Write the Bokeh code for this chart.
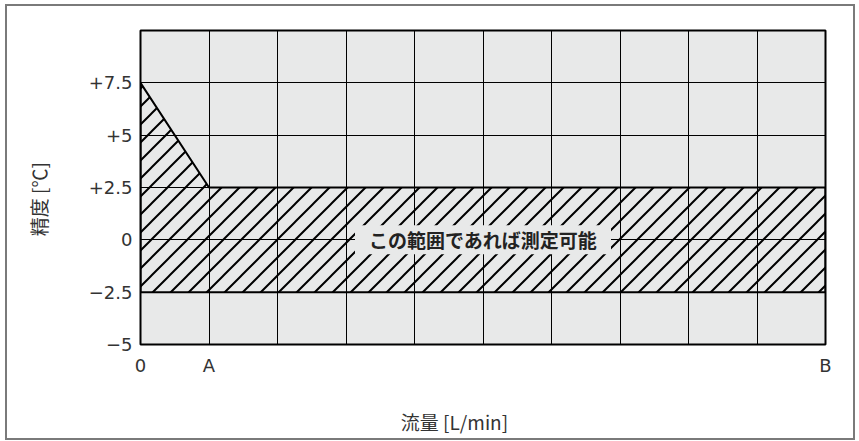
import base64
from bokeh.plotting import figure
from bokeh.models import FixedTicker, Label, ImageURLTexture
from bokeh.embed import file_html
from bokeh.resources import INLINE

# Data
x_ticks = [0, 1, 10]
x_tick_labels = ["0", "A", "B"]
x_grid = [0, 1, 2, 3, 4, 5, 6, 7, 8, 9, 10]
y_ticks = [-5, -2.5, 0, 2.5, 5, 7.5]
y_tick_labels = ["\u22125", "\u22122.5", "0", "+2.5", "+5", "+7.5"]
y_grid = [-5, -2.5, 0, 2.5, 5, 7.5, 10]
region_x = [0, 0, 1, 10, 10]
region_y = [-2.5, 7.5, 2.5, 2.5, -2.5]
region_label = "この範囲であれば測定可能"
label_pos = (5, 0)
x_label = "流量 [L/min]\u3000\u3000\u3000"
y_label = "精度 [\u2103]\u3000\u00a0"

p = figure(width=850, height=436, x_range=(0, 10), y_range=(-5, 10),
           output_backend="svg", toolbar_location=None,
           min_border_left=133, min_border_right=32, min_border_top=24, min_border_bottom=98)
p.styles = {"border": "2px solid #7a7a7a", "margin-left": "5px", "margin-top": "4px"}
p.background_fill_color = "#e8e9e9"
p.border_fill_color = "white"
p.outline_line_color = "black"
p.outline_line_width = 2

xa = p.xaxis[0]
ya = p.yaxis[0]
xa.ticker = FixedTicker(ticks=x_ticks)
xa.major_label_overrides = {t: l for t, l in zip(x_ticks, x_tick_labels)}
ya.ticker = FixedTicker(ticks=y_ticks)
ya.major_label_overrides = {t: l for t, l in zip(y_ticks, y_tick_labels)}
p.xgrid[0].ticker = FixedTicker(ticks=x_grid)
p.ygrid[0].ticker = FixedTicker(ticks=y_grid)
for g in (p.xgrid[0], p.ygrid[0]):
    g.grid_line_color = "black"
    g.grid_line_width = 1
    g.grid_line_alpha = 1

for ax in (xa, ya):
    ax.axis_line_color = None
    ax.major_tick_line_color = None
    ax.minor_tick_line_color = None
    ax.major_label_text_font = "DejaVu Sans"
    ax.major_label_text_font_size = "18px"
    ax.major_label_text_color = "#333333"
    ax.axis_label_text_font = "Noto Sans CJK JP"
    ax.axis_label_text_font_style = "normal"
    ax.axis_label_text_color = "#333333"
    ax.axis_label_text_font_size = "19px"

xa.major_label_standoff = 4
ya.major_label_standoff = 2
xa.axis_label = x_label
ya.axis_label = y_label
xa.axis_label_standoff = 29
ya.axis_label_standoff = 34

tile_svg = ("<svg xmlns='http://www.w3.org/2000/svg' width='18' height='18'>"
            "<path d='M0 18L18 0M-4.5 4.5L4.5 -4.5M13.5 22.5L22.5 13.5' "
            "stroke='black' stroke-width='2' fill='none'/></svg>")
tile_url = "data:image/svg+xml;base64," + base64.b64encode(tile_svg.encode()).decode()
diag = ImageURLTexture(url=tile_url, repetition="repeat")

p.patch(region_x, region_y, fill_color=None, line_color="black", line_width=2,
        hatch_pattern="diag", hatch_extra={"diag": diag},
        hatch_color="black", hatch_weight=2, hatch_scale=18)

lab = Label(x=label_pos[0], y=label_pos[1], text=region_label,
            text_align="center", text_baseline="middle",
            text_font="Noto Sans CJK JP", text_font_style="bold",
            text_font_size="19px", text_color="#222222",
            background_fill_color="#e8e9e9",
            padding=dict(left=14, right=14, top=1, bottom=1))
p.add_layout(lab)

open("out.html", "w").write(file_html(p, INLINE))
